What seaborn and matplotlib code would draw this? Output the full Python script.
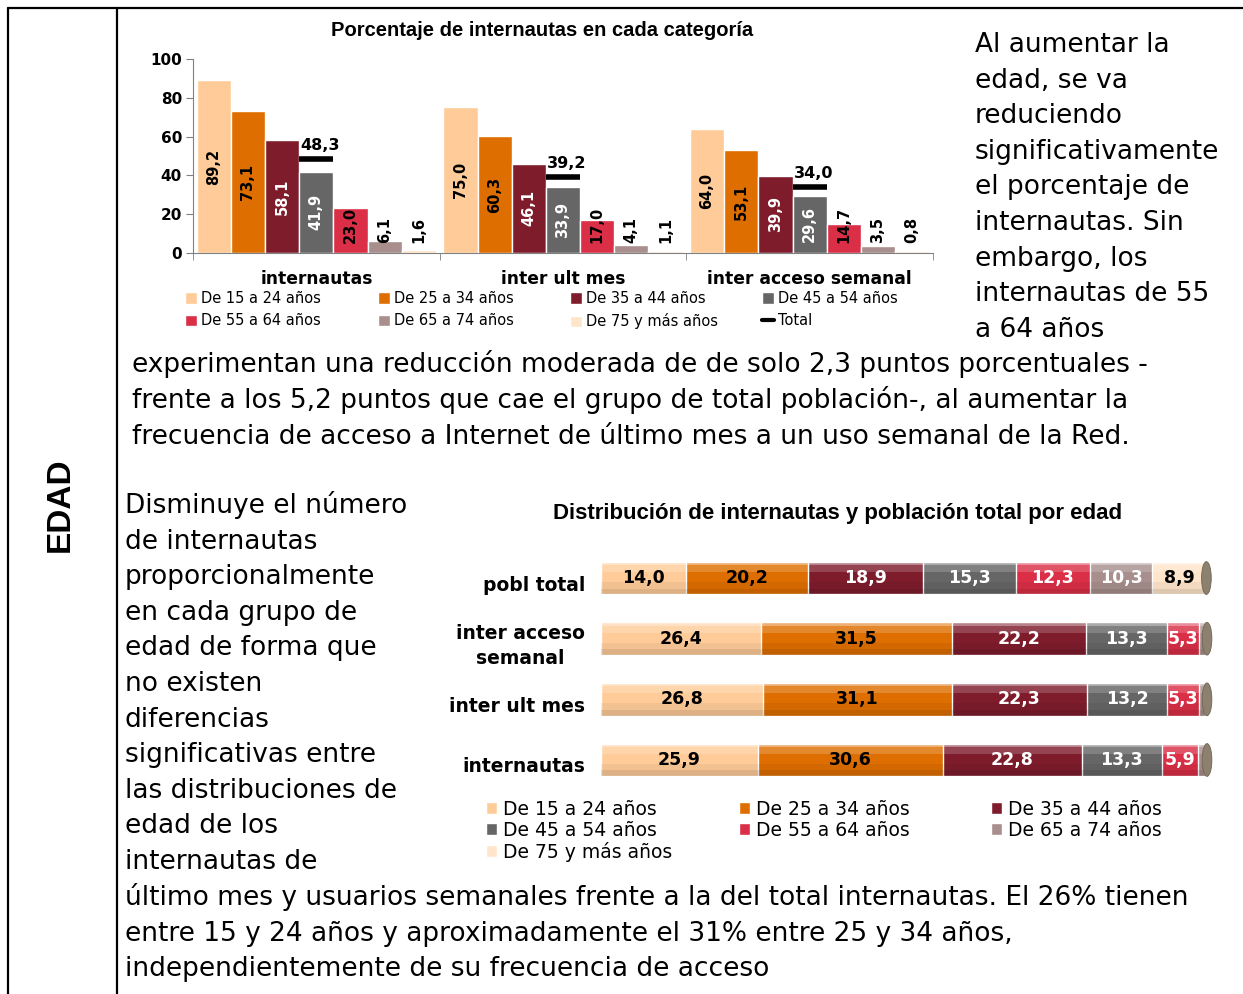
import numpy as np
import pandas as pd
import seaborn as sns
import matplotlib.pyplot as plt
from matplotlib.patches import Patch, Ellipse, Rectangle
from matplotlib.lines import Line2D
from matplotlib.transforms import ScaledTranslation

W, H = 1243, 994

ages = ["De 15 a 24 años", "De 25 a 34 años", "De 35 a 44 años", "De 45 a 54 años",
        "De 55 a 64 años", "De 65 a 74 años", "De 75 y más años"]
age_colors = ["#FFCC99", "#DF6E00", "#7E1C2C", "#666666", "#DA2F46", "#A88F8D", "#FFE5CA"]

# top chart: % of internet users in each age group
top_cats = ["internautas", "inter ult mes", "inter acceso semanal"]
pct_internautas = [89.2, 73.1, 58.1, 41.9, 23.0, 6.1, 1.6]
pct_ult_mes = [75.0, 60.3, 46.1, 33.9, 17.0, 4.1, 1.1]
pct_semanal = [64.0, 53.1, 39.9, 29.6, 14.7, 3.5, 0.8]
pct_total = [48.3, 39.2, 34.0]

# bottom chart: age distribution
dist_cats = ["pobl total", "inter acceso\nsemanal", "inter ult mes", "internautas"]
dist_pobl = [14.0, 20.2, 18.9, 15.3, 12.3, 10.3, 8.9]
dist_semanal = [26.4, 31.5, 22.2, 13.3, 5.3, 1.0, 0.3]
dist_ult_mes = [26.8, 31.1, 22.3, 13.2, 5.3, 1.0, 0.3]
dist_internautas = [25.9, 30.6, 22.8, 13.3, 5.9, 1.2, 0.3]

text_top_right = ["Al aumentar la", "edad, se va", "reduciendo", "significativamente",
                  "el porcentaje de", "internautas. Sin", "embargo, los",
                  "internautas de 55", "a 64 años"]
text_middle = ["experimentan una reducción moderada de de solo 2,3 puntos porcentuales -",
               "frente a los 5,2 puntos que cae el grupo de total población-, al aumentar la",
               "frecuencia de acceso a Internet de último mes a un uso semanal de la Red."]
text_left = ["Disminuye el número", "de internautas", "proporcionalmente",
             "en cada grupo de", "edad de forma que", "no existen", "diferencias",
             "significativas entre", "las distribuciones de", "edad de los",
             "internautas de"]
text_bottom = ["último mes y usuarios semanales frente a la del total internautas. El 26% tienen",
               "entre 15 y 24 años y aproximadamente el 31% entre 25 y 34 años,",
               "independientemente de su frecuencia de acceso"]


def fx(x):
    return x / W


def fy(y):
    return 1 - y / H


def fmt(v):
    return f"{v:.1f}".replace(".", ",")


sns.set_style("ticks")
plt.rcParams["font.family"] = ["DejaVu Sans"]
plt.rcParams.update({"text.color": "black", "axes.labelcolor": "black",
                     "xtick.color": "black", "ytick.color": "black"})
fig = plt.figure(figsize=(W / 100, H / 100), dpi=100)

# ---- page frame
for xs, ys in [([8, 8], [8, 994]), ([117, 117], [8, 994]), ([8, 1243], [8, 8])]:
    fig.add_artist(Line2D([fx(x) for x in xs], [fy(y) for y in ys],
                          transform=fig.transFigure, color="black", lw=1.6))

fig.text(fx(60), fy(505), "EDAD", rotation=90, ha="center", va="center",
         fontsize=24, fontweight="bold", family=["Liberation Sans", "DejaVu Sans"])

# ---- top chart
top = pd.DataFrame({
    "cat": np.repeat(top_cats, len(ages)),
    "age": ages * len(top_cats),
    "val": pct_internautas + pct_ult_mes + pct_semanal,
})
ax1 = fig.add_axes([fx(193), fy(253), (933 - 193) / W, (253 - 59) / H])
sns.barplot(data=top, x="cat", y="val", hue="age", hue_order=ages, order=top_cats,
            palette=age_colors, width=0.97, saturation=1, errorbar=None,
            legend=False, ax=ax1)

for i, cont in enumerate(ax1.containers):
    color = "white" if i in (2, 3) else "black"
    for bar in cont:
        v = bar.get_height()
        xc = bar.get_x() + bar.get_width() / 2
        if v >= 25:
            ax1.text(xc, v / 2, fmt(v), rotation=90, ha="center", va="center",
                     fontsize=10.5, fontweight="bold", color=color)
        else:
            ax1.text(xc, 5, fmt(v), rotation=90, ha="center", va="bottom",
                     fontsize=10.5, fontweight="bold", color="black")

tot = pd.DataFrame({"cat": top_cats, "val": pct_total})
sns.scatterplot(data=tot, x="cat", y="val", marker="_", s=620, color="black",
                linewidth=4, legend=False, zorder=5, ax=ax1)
for bar, t in zip(ax1.containers[3], pct_total):
    ax1.text(bar.get_x() + 0.005, t + 3, fmt(t), ha="left", va="bottom",
             fontsize=11.5, fontweight="bold")

ax1.set_xlim(-0.5, 2.5)
ax1.set_ylim(0, 100)
ax1.set_yticks(range(0, 101, 20))
ax1.set_xticks(range(len(top_cats)))
ax1.set_xticklabels(top_cats, fontsize=12.3, fontweight="bold")
ax1.set_xticks([-0.5, 0.5, 1.5, 2.5], minor=True)
ax1.tick_params(axis="x", which="major", length=0, pad=12)
ax1.tick_params(axis="x", which="minor", length=5, color="#808080")
ax1.tick_params(axis="y", length=5, color="#808080", pad=3, labelsize=11)
for lbl in ax1.get_yticklabels():
    lbl.set_fontweight("bold")
ax1.set_xlabel("")
ax1.set_ylabel("")
sns.despine(ax=ax1)
for s in ("left", "bottom"):
    ax1.spines[s].set_color("#808080")

fig.text(fx(542), fy(30), "Porcentaje de internautas en cada categoría", ha="center",
         va="center", fontsize=14.5, fontweight="bold",
         family=["Liberation Sans", "DejaVu Sans"])

# top legend, four fixed columns
top_handles = [Patch(facecolor=c) for c in age_colors] + [Line2D([], [], color="black", lw=3)]
top_labels = ages + ["Total"]
col_x = [185, 378, 570, 762]
for c in range(4):
    fig.legend([top_handles[c], top_handles[c + 4]], [top_labels[c], top_labels[c + 4]],
               loc="upper left", bbox_to_anchor=(fx(col_x[c]), fy(291)), frameon=False,
               borderpad=0, borderaxespad=0, handlelength=0.8, handleheight=0.8,
               handletextpad=0.3, labelspacing=0.5, fontsize=10.5)

# ---- bottom chart
dist = pd.DataFrame({
    "cat": np.repeat(dist_cats, len(ages)),
    "age": ages * len(dist_cats),
    "val": dist_pobl + dist_semanal + dist_ult_mes + dist_internautas,
})
dist["cum"] = dist.groupby("cat", sort=False)["val"].cumsum()

ax2 = fig.add_axes([fx(601), fy(790.3), 606 / W, 242.6 / H])
for k in range(len(ages) - 1, -1, -1):
    sub = dist[dist["age"] == ages[k]]
    sns.barplot(data=sub, x="cum", y="cat", order=dist_cats, orient="h",
                color=age_colors[k], width=0.54, saturation=1, errorbar=None, ax=ax2)

# cylinder shading and end caps, from the full-length bars
bands = [(0.0, 0.10, "white", 0.45), (0.10, 0.32, "white", 0.18),
         (0.62, 0.82, "black", 0.05), (0.82, 1.0, "black", 0.13)]
for bar in ax2.containers[0]:
    x0, y0, w, h = bar.get_x(), bar.get_y(), bar.get_width(), bar.get_height()
    for f0, f1, col, a in bands:
        ax2.add_patch(Rectangle((x0, y0 + f0 * h), w, (f1 - f0) * h, facecolor=col,
                                alpha=a, lw=0, zorder=3))
    ax2.add_patch(Ellipse((x0 + w, y0 + h / 2), 1.6, h, facecolor="#8C806E",
                          edgecolor="#6f6555", lw=0.6, zorder=4, clip_on=False))

for _, row in dist.iterrows():
    if row["val"] >= 5:
        k = ages.index(row["age"])
        color = "white" if k in (2, 3, 4, 5) else "black"
        ax2.text(row["cum"] - row["val"] / 2, dist_cats.index(row["cat"]), fmt(row["val"]),
                 ha="center", va="center", fontsize=12.5, fontweight="bold",
                 color=color, zorder=6)

ax2.set_xlim(0, 100)
ax2.set_ylim(3.5, -0.5)
ax2.set_axis_off()
lab_off = ScaledTranslation(-16 / 100, -7 / 100, fig.dpi_scale_trans)
for i, c in enumerate(dist_cats):
    ax2.text(0, i, c, transform=ax2.get_yaxis_transform() + lab_off, ha="right",
             va="center", multialignment="center", fontsize=13.5, fontweight="bold",
             linespacing=1.4)

fig.text(fx(838), fy(513), "Distribución de internautas y población total por edad",
         ha="center", va="center", fontsize=16, fontweight="bold",
         family=["Liberation Sans", "DejaVu Sans"])

bot_handles = [Patch(facecolor=c) for c in age_colors]
bot_cols = [[0, 3, 6], [1, 4], [2, 5]]
bot_x = [486, 739, 991]
for c, idx in enumerate(bot_cols):
    fig.legend([bot_handles[i] for i in idx], [ages[i] for i in idx],
               loc="upper left", bbox_to_anchor=(fx(bot_x[c]), fy(800)), frameon=False,
               borderpad=0, borderaxespad=0, handlelength=0.6, handleheight=0.6,
               handletextpad=0.3, labelspacing=0.1, fontsize=13.5)

# ---- body text
def block(lines, x, y0, dy=35.6):
    for i, line in enumerate(lines):
        fig.text(fx(x), fy(y0 + i * dy), line, ha="left", va="baseline", fontsize=19)


block(text_top_right, 975, 52)
block(text_middle, 132, 372, 36)
block(text_left, 125, 513)
block(text_bottom, 125, 905)

fig.savefig("out.png", dpi=100)
